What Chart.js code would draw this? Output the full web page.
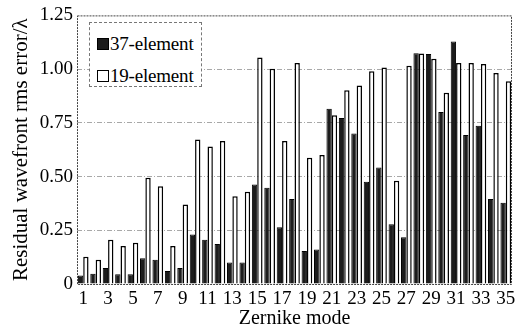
<!DOCTYPE html>
<html>
<head>
<meta charset="utf-8">
<script src="https://cdn.jsdelivr.net/npm/chart.js@4"></script>
<style>
html, body { margin: 0; padding: 0; background: #fff; }
#wrap { position: relative; width: 516px; height: 326px; }
#legend {
    position: absolute; left: 89px; top: 22px; width: 113px; height: 65px;
    border: 1px dashed #777; box-sizing: border-box; background: #fff;
    font-family: 'Liberation Serif', 'Times New Roman', serif; font-size: 19px; color: #000;
}
.item { position: absolute; left: 7px; display: flex; align-items: center; white-space: nowrap; line-height: 19px; letter-spacing: -0.2px; }
.sw { width: 12px; height: 12px; margin-right: 1px; box-sizing: border-box; border: 1px solid #000; }
</style>
</head>
<body>
<div id="wrap">
    <canvas id="chart" width="516" height="326"></canvas>
    <div id="legend">
        <div class="item" style="top:11px"><span class="sw" style="background:#1c1c1c"></span>37-element</div>
        <div class="item" style="top:43px"><span class="sw" style="background:#fff"></span>19-element</div>
    </div>
</div>
<script>
const modes = [];
for (let i = 1; i <= 35; i++) modes.push(String(i));

const element37 = [0.04, 0.048, 0.074, 0.045, 0.045, 0.12, 0.113, 0.06, 0.074, 0.23,
    0.206, 0.186, 0.1, 0.1, 0.463, 0.448, 0.264, 0.395, 0.154, 0.16,
    0.816, 0.773, 0.7, 0.476, 0.542, 0.278, 0.218, 1.074, 1.07, 0.8,
    1.129, 0.693, 0.737, 0.395, 0.378];
const element19 = [0.127, 0.113, 0.206, 0.177, 0.192, 0.494, 0.455, 0.177, 0.37, 0.673,
    0.64, 0.665, 0.408, 0.429, 1.054, 1.002, 0.665, 1.028, 0.588, 0.6,
    0.785, 0.902, 0.924, 0.99, 1.008, 0.48, 1.016, 1.073, 1.048, 0.89,
    1.028, 1.028, 1.024, 0.982, 0.944];
const yTicks = [0, 0.25, 0.5, 0.75, 1.0, 1.25];

const serif = "'Liberation Serif', 'Times New Roman', serif";

// dashed frame round the plot area
const framePlugin = {
    id: 'frame',
    afterDraw(chart) {
        const a = chart.chartArea;
        const ctx = chart.ctx;
        ctx.save();
        ctx.strokeStyle = '#444';
        ctx.lineWidth = 1;
        ctx.setLineDash([2, 1]);
        ctx.strokeRect(a.left + 0.5, a.top + 0.5, a.right - a.left - 1, a.bottom - a.top);
        ctx.restore();
    }
};

new Chart(document.getElementById('chart'), {
    type: 'bar',
    data: {
        labels: modes,
        datasets: [{
            label: '37-element',
            data: element37,
            backgroundColor: '#1c1c1c',
            borderColor: '#000',
            borderWidth: 1
        }, {
            label: '19-element',
            data: element19,
            backgroundColor: '#fff',
            borderColor: '#000',
            borderWidth: 1.5
        }]
    },
    options: {
        responsive: false,
        animation: false,
        layout: { padding: { top: 14, right: 4, left: 0, bottom: 0 } },
        datasets: { bar: { categoryPercentage: 0.86, barPercentage: 1.0 } },
        plugins: {
            legend: { display: false },
            tooltip: { enabled: false }
        },
        scales: {
            x: {
                grid: { display: false },
                border: { display: false },
                ticks: {
                    autoSkip: false,
                    maxRotation: 0,
                    padding: -4,
                    color: '#000',
                    font: { family: serif, size: 19 },
                    callback: function (value, index) {
                        return index % 2 === 0 ? modes[index] : '';
                    }
                },
                title: {
                    display: true,
                    text: 'Zernike mode',
                    color: '#000',
                    font: { family: serif, size: 20, lineHeight: 1 },
                    padding: { top: 0, bottom: -3 }
                },
                afterFit: function (scale) { scale.height = 42; }
            },
            y: {
                min: 0,
                max: 1.25,
                afterBuildTicks: function (scale) {
                    scale.ticks = yTicks.map(v => ({ value: v }));
                },
                grid: {
                    drawTicks: false,
                    color: function (ctx) {
                        const v = ctx.tick ? ctx.tick.value : 0;
                        if (v === 0 || v === 1.25) return 'rgba(0,0,0,0)';
                        return '#a8a8a8';
                    }
                },
                border: { display: false, dash: [5, 2, 1, 2] },
                ticks: {
                    padding: 4,
                    color: '#000',
                    font: { family: serif, size: 19 },
                    callback: function (value) {
                        return value === 0 ? '0' : value.toFixed(2);
                    }
                },
                title: {
                    display: true,
                    text: 'Residual wavefront rms error/\u03bb',
                    color: '#000',
                    font: { family: serif, size: 21 },
                    padding: { top: 9, bottom: 0 }
                },
                afterFit: function (scale) { scale.width = 77; }
            }
        }
    },
    plugins: [framePlugin]
});
</script>
</body>
</html>
